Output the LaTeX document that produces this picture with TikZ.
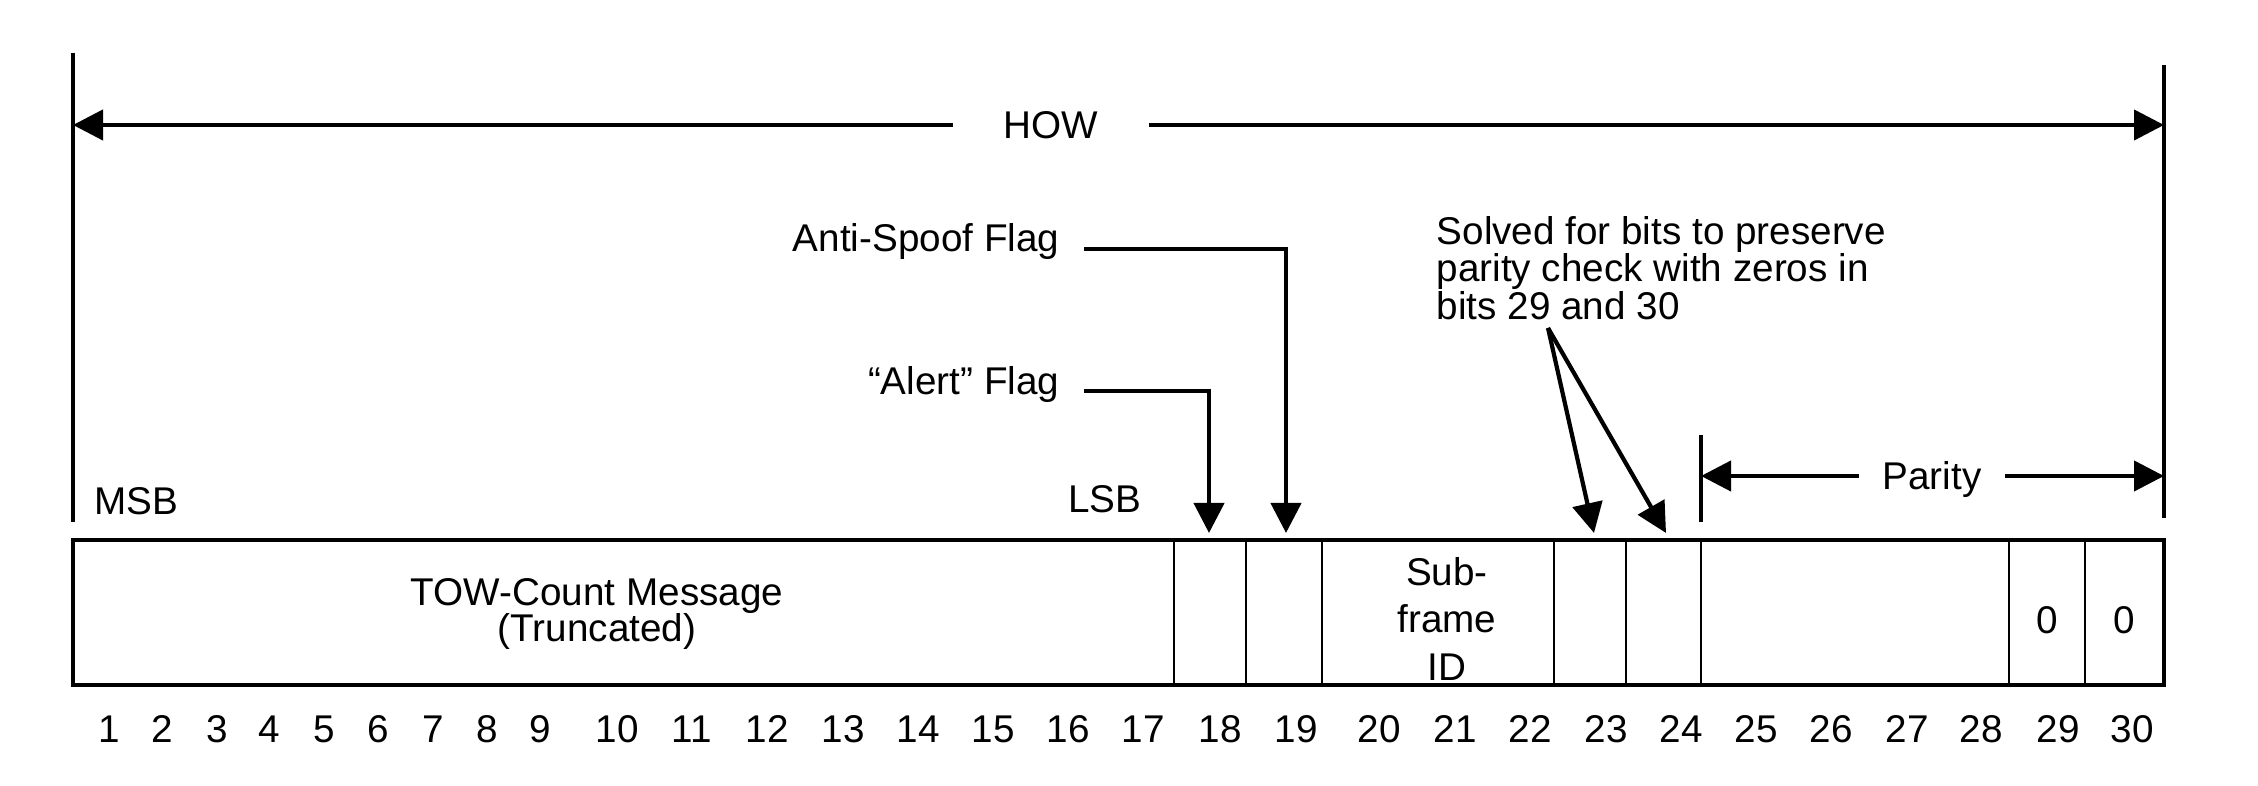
\documentclass[tikz,border=0pt]{standalone}
\usepackage{fontspec}
\setmainfont{Liberation Sans}
\usetikzlibrary{arrows.meta,positioning}

\begin{document}
\begin{tikzpicture}[
    lbl/.style={font=\fontsize{11pt}{10.6pt}\selectfont, inner sep=0pt},
    flag/.style={lbl, anchor=base east, inner xsep=2.4mm},
    dimlabel/.style={lbl, text depth=0pt},
    frame/.style={line width=1.1pt},
    divider/.style={line width=0.8pt},
    guide/.style={line width=0.9pt},
    arrow/.style={line width=1.2pt, -{Triangle[length=3mm,width=3mm]}}]
    \useasboundingbox (0,0) rectangle (22.58,7.86);
    \draw[guide] (0.73,7.33) -- (0.73,2.64);
    \draw[guide] (21.64,7.21) -- (21.64,2.68);
    \draw[guide] (17.01,3.51) -- (17.01,2.64);
    \draw[frame] (0.73,1.01) rectangle (21.64,2.46);
    \foreach \x in {11.74,12.46,13.22,15.54,16.26,17.01,20.09,20.85}
        \draw[divider] (\x,1.01) -- (\x,2.46);
    \node[dimlabel, inner xsep=5mm] (how) at (10.51,6.61) {HOW};
    \coordinate (howl) at (0.73,6.61);
    \coordinate (howr) at (21.64,6.61);
    \draw[arrow] (how) -- (howl);
    \draw[arrow] (how) -- (howr);
    \node[dimlabel, inner xsep=2.3mm] (parity) at (19.32,3.10) {Parity};
    \coordinate (parl) at (17.01,3.10);
    \coordinate (parr) at (21.64,3.10);
    \draw[arrow] (parity) -- (parl);
    \draw[arrow] (parity) -- (parr);
    \node[lbl] (msb) at (1.36,2.85) {MSB};
    \node[lbl] (lsb) at (11.05,2.87) {LSB};
    \coordinate (t18) at (12.09,2.53);
    \coordinate (t19) at (12.86,2.53);
    \coordinate (t23) at (15.94,2.53);
    \coordinate (t24) at (16.66,2.53);
    \node[flag] (antispoof) at (10.84,5.34) {Anti-Spoof Flag};
    \node[flag] (alert) at (10.84,3.91) {“Alert” Flag};
    \draw[arrow] ([yshift=0.3mm]antispoof.base east) -| (t19);
    \draw[arrow] ([yshift=0.4mm]alert.base east) -| (t18);
    \node[lbl, anchor=north west, align=left] (solved) at (14.36,5.70)
        {Solved for bits to preserve\\parity check with zeros in\\bits 29 and 30};
    \coordinate (solvedfoot) at (15.48,4.58);
    \draw[arrow] (solvedfoot) -- (t23);
    \draw[arrow] (solvedfoot) -- (t24);
    \node[lbl, align=center, font=\fontsize{11pt}{10.4pt}\selectfont] (tow) at (5.97,1.72)
        {TOW-Count Message\\(Truncated)};
    \node[lbl, align=center, font=\fontsize{11pt}{13.5pt}\selectfont] (subframe) at (14.47,1.67)
        {Sub-\\frame\\ID};
    \node[lbl] (zero29) at (20.47,1.66) {0};
    \node[lbl] (zero30) at (21.245,1.66) {0};
    \foreach \x [count=\i] in {1.09,1.62,2.17,2.69,3.24,3.78,4.33,4.87,5.40,6.17,6.92,7.67,8.43,9.18,9.93,10.68,11.43,12.20,12.96,13.79,14.55,15.30,16.06,16.81,17.56,18.31,19.07,19.81,20.58,21.32}
        \node[lbl] (n\i) at (\x,0.57) {\i};
\end{tikzpicture}
\end{document}
